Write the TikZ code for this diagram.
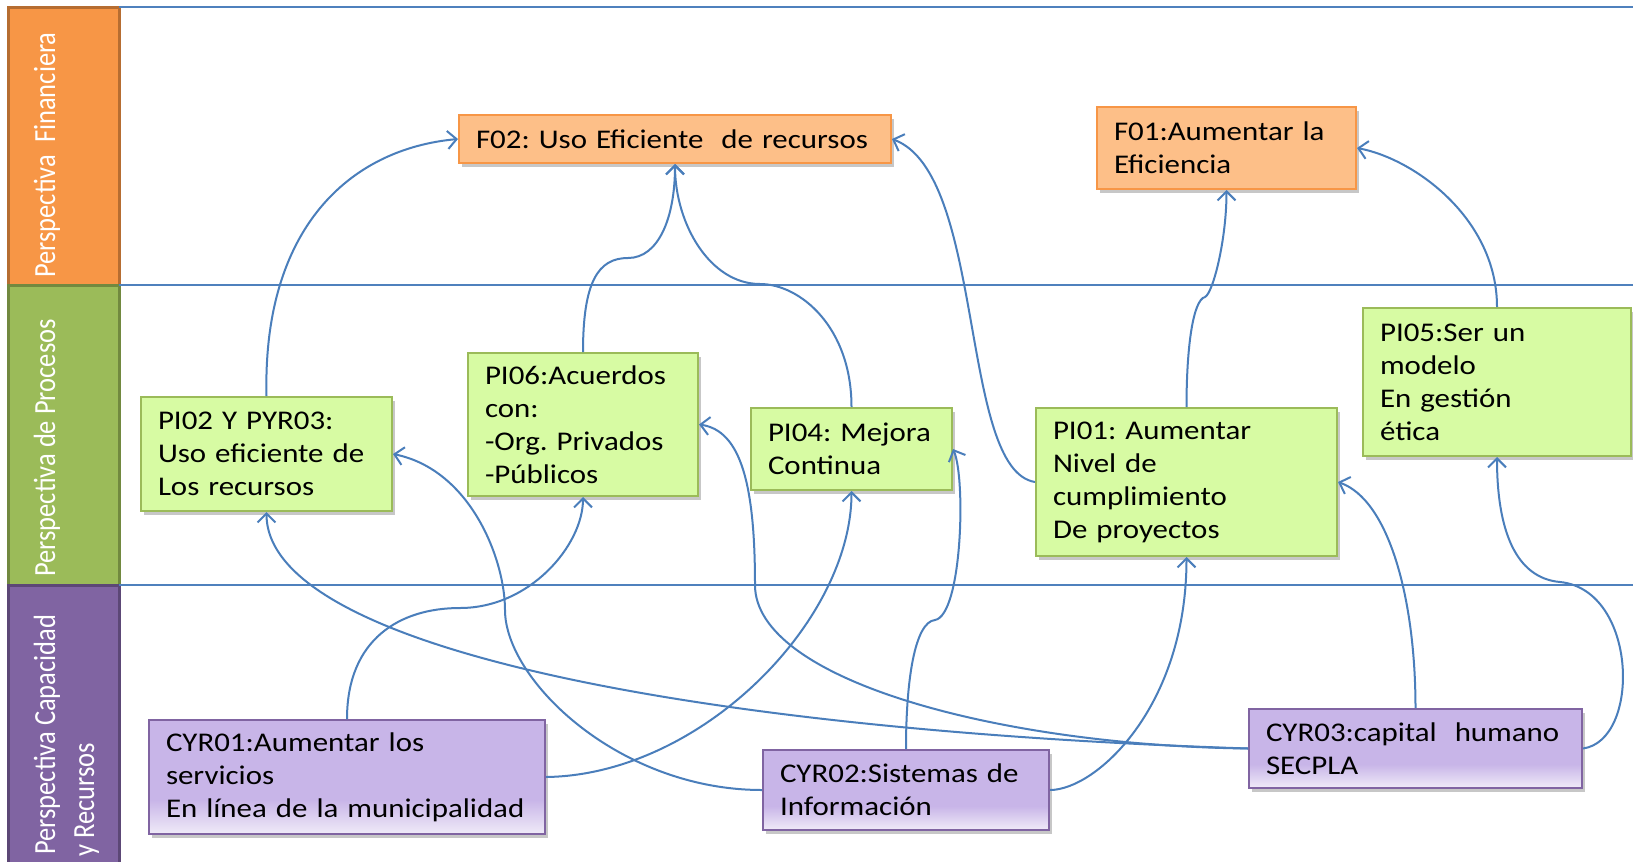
\documentclass[tikz,border=0pt]{standalone}
\usepackage{fontspec}
\setmainfont{Carlito}[FakeStretch=1.145]
\newfontfamily\lanefont{Carlito}
\usetikzlibrary{arrows.meta,shadows}

\definecolor{laneFin}{HTML}{F79646}
\definecolor{laneFinEdge}{HTML}{B66D31}
\definecolor{laneProc}{HTML}{9BBB59}
\definecolor{laneProcEdge}{HTML}{71893F}
\definecolor{laneCap}{HTML}{8064A2}
\definecolor{laneCapEdge}{HTML}{5C4776}
\definecolor{sepBlue}{HTML}{4F81BD}
\definecolor{linkBlue}{HTML}{4A7EBB}
\definecolor{finFill}{HTML}{FDBF88}
\definecolor{finEdge}{HTML}{F79646}
\definecolor{procFill}{HTML}{D7FBA3}
\definecolor{procEdge}{HTML}{9BBB59}
\definecolor{capFill}{HTML}{C8B5E8}
\definecolor{capLight}{HTML}{F0EBF8}
\definecolor{capEdge}{HTML}{8064A2}

% lavender boxes fade towards white at the bottom
\pgfdeclareverticalshading{capshade}{100bp}{color(0bp)=(capLight); color(25bp)=(capLight); color(40bp)=(capFill); color(100bp)=(capFill)}

\tikzset{
  objbox/.style={rectangle, line width=2pt, align=left, inner xsep=17pt, inner ysep=0pt,
    font=\fontsize{27pt}{33pt}\selectfont,
    execute at begin node={\hyphenpenalty=10000\exhyphenpenalty=10000\hbadness=10000\hfuzz=20pt},
    drop shadow={shadow xshift=2.5pt, shadow yshift=-3.5pt, opacity=0.22, fill=black}},
  finbox/.style={objbox, fill=finFill, draw=finEdge},
  procbox/.style={objbox, fill=procFill, draw=procEdge},
  capbox/.style={objbox, shading=capshade, draw=capEdge},
  laneband/.style={rectangle, line width=3pt, inner sep=0pt},
  lanelabel/.style={rotate=90, anchor=base west, inner sep=0pt, text=white,
    font=\lanefont\fontsize{26.5pt}{32pt}\selectfont},
  sepline/.style={draw=sepBlue, line width=1.5pt},
  linkarrow/.style={draw=linkBlue, line width=2pt, -{Straight Barb[length=9pt,width=18pt]}},
}

\begin{document}
\begin{tikzpicture}[x=1pt, y=-1pt]
\useasboundingbox (0,0) rectangle (1633,862);
\fill[white] (0,0) rectangle (1633,862);

% perspective bands
\node[laneband, fill=laneFin, draw=laneFinEdge, minimum width=111pt, minimum height=278pt] (lanefin) at (63.5,146) {};
\node[laneband, fill=laneProc, draw=laneProcEdge, minimum width=111pt, minimum height=300pt] (laneproc) at (63.5,435) {};
\node[laneband, fill=laneCap, draw=laneCapEdge, minimum width=111pt, minimum height=285pt] (lanecap) at (63.5,727.5) {};

\node[lanelabel] (lblfin) at (55,278) {\scalebox{1}[1.16]{Perspectiva~~Financiera}};
\node[lanelabel] (lblproc) at (55,577) {\scalebox{1}[1.16]{Perspectiva de Procesos}};
\node[lanelabel] (lblcap) at (55,855) {\scalebox{1}[1.16]{Perspectiva Capacidad}};
\node[lanelabel] (lblcaptwo) at (94,857) {\scalebox{1}[1.16]{y Recursos}};

% band separators
\draw[sepline] (119,7) -- (1633,7);
\draw[sepline] (119,285) -- (1633,285);
\draw[sepline] (119,585) -- (1633,585);

% financial objectives
\node[finbox, minimum width=432pt, minimum height=48pt, text width=398pt] (f02) at (675,139)
  {F02:~Uso~Eficiente~~de~recursos};
\node[finbox, minimum width=259pt, minimum height=82pt, text width=225pt] (f01) at (1226.5,148)
  {F01:Aumentar~la\\Eficiencia};

% process objectives
\node[procbox, minimum width=251pt, minimum height=114pt, text width=217pt] (pi02) at (266.5,454)
  {PI02~Y~PYR03:\\Uso~eficiente~de\\Los~recursos};
\node[procbox, minimum width=230pt, minimum height=143pt, text width=196pt] (pi06) at (583,424.5)
  {PI06:Acuerdos\\con:\\-Org.~Privados\\-Públicos};
\node[procbox, minimum width=201pt, minimum height=82pt, text width=167pt] (pi04) at (851.5,449)
  {PI04:~Mejora\\Continua};
\node[procbox, minimum width=301pt, minimum height=148pt, text width=267pt] (pi01) at (1186.5,482)
  {PI01:~Aumentar\\Nivel~de\\cumplimiento\\De~proyectos};
\node[procbox, minimum width=268pt, minimum height=148pt, text width=234pt] (pi05) at (1497,382)
  {PI05:Ser~un\\modelo\\En~gestión\\ética};

% capacity and resources objectives
\node[capbox, minimum width=396pt, minimum height=114pt, text width=362pt] (cyr01) at (347,777)
  {CYR01:Aumentar~los\\servicios\\En~línea~de~la~municipalidad};
\node[capbox, minimum width=286pt, minimum height=80pt, text width=252pt] (cyr02) at (906,790)
  {CYR02:Sistemas~de\\Información};
\node[capbox, minimum width=333pt, minimum height=79pt, text width=299pt] (cyr03) at (1415.5,748.5)
  {CYR03:capital~~humano\\SECPLA};

% cause-effect links
\draw[linkarrow] (pi02.north) .. controls +(-4,-167) and +(-109,10) .. (f02.west);
\draw[linkarrow] (pi06.north) .. controls +(0,-70) and +(-30,0) .. (628,258)
                         .. controls +(30,0) and +(0,55) .. (f02.south);
\draw[linkarrow] (pi04.north) .. controls +(0,-80) and +(40,0) .. (760,284)
                         .. controls +(-50,0) and +(0,60) .. (f02.south);
\draw[linkarrow] (pi01.west) .. controls +(-76,-12) and +(94,35) .. (f02.east);
\draw[linkarrow] (pi01.north) .. controls +(0,-60) and +(-12,3) .. (1205,297)
                         .. controls +(8,-4) and +(0,50) .. (f01.south);
\draw[linkarrow] (pi05.north) .. controls +(0,-88) and +(58,11) .. (f01.east);

\draw[linkarrow] (cyr01.north) .. controls +(0,-80) and +(-60,0) .. (460,608)
                          .. controls +(70,0) and +(0,48) .. (pi06.south);
\draw[linkarrow] (cyr01.east) .. controls +(155,-2) and +(0,130) .. (pi04.south);
\draw[linkarrow] (cyr02.west) .. controls +(-143,0) and +(0,70) .. (505,610)
                         .. controls +(0,-50) and +(78,16) .. (pi02.east);
\draw[linkarrow] (cyr03.west) .. controls +(-549,-18) and +(0,137) .. (pi02.south);
\draw[linkarrow] (cyr03.west) .. controls +(-249,-3) and +(0,95) .. (755,585)
                         .. controls +(0,-100) and +(42,6) .. (pi06.east);
\draw[linkarrow] (cyr02.north) .. controls +(0,-70) and +(-20,2) .. (935,620)
                          .. controls +(27,-5) and +(13,30) .. (pi04.east);
\draw[linkarrow] (cyr02.east) .. controls +(46,0) and +(0,150) .. (pi01.south);
\draw[linkarrow] (cyr03.north) .. controls +(0,-109) and +(51,18) .. (pi01.east);
\draw[linkarrow] (cyr03.east) .. controls +(58,-8) and +(78,8) .. (1560,582)
                         .. controls +(-45,-4) and +(0,72) .. (pi05.south);
\end{tikzpicture}
\end{document}
